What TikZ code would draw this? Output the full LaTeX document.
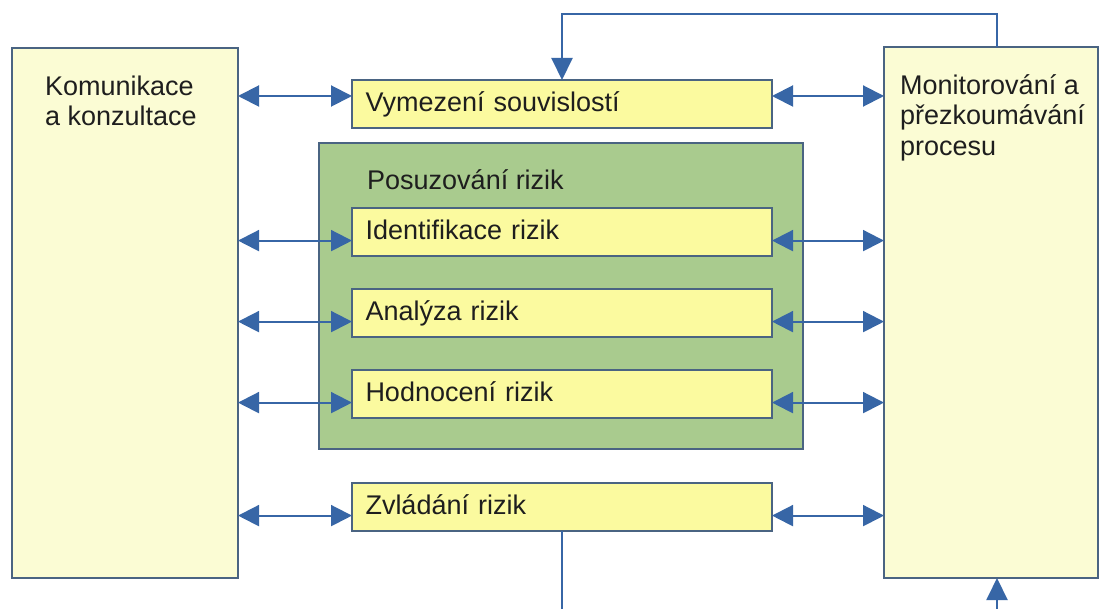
\documentclass[tikz,border=0pt]{standalone}
\usepackage{fontspec}
\setmainfont{Liberation Sans}
\usetikzlibrary{arrows.meta,calc}

\definecolor{paleyellow}{HTML}{FBFCD4}
\definecolor{stepyellow}{HTML}{FBFA9F}
\definecolor{assessgreen}{HTML}{A9CB8E}
\definecolor{boxline}{HTML}{4A6482}
\definecolor{flow}{HTML}{3766A6}
\definecolor{inktext}{HTML}{1E1E1E}

\begin{document}
\begin{tikzpicture}[x=1pt,y=-1pt,
  every node/.style={font=\fontsize{27}{30.8}\selectfont, text=inktext},
  framed/.style={draw=boxline, line width=1.8pt, outer sep=0pt, inner sep=0pt},
  bigbox/.style={framed, fill=paleyellow, anchor=north west},
  stepbox/.style={framed, fill=stepyellow, anchor=north west,
    minimum width=420pt, minimum height=48pt, text width=393pt, align=left,
    inner xsep=13.5pt, inner ysep=0pt, text height=19.4pt, text depth=5pt},
  flowline/.style={draw=flow, line width=2pt},
  biarrow/.style={flowline, {Triangle[length=21pt,width=21pt]}-{Triangle[length=21pt,width=21pt]}},
  onearrow/.style={flowline, -{Triangle[length=22pt,width=21pt]}},
  label/.style={inner sep=0pt, align=left, anchor=north west}
]
\useasboundingbox[fill=white] (0,0) rectangle (1108,609);

% side columns
\node[bigbox, minimum width=226pt, minimum height=530pt] (kom) at (12,48) {};
\node[label] (komtxt) at (45,75.3) {Komunikace\\a konzultace};
\node[bigbox, minimum width=214pt, minimum height=531pt] (mon) at (884,47) {};
\node[label] (montxt) at (900,74) {Monitorování a\\přezkoumávání\\procesu};

% risk assessment group
\node[framed, fill=assessgreen, anchor=north west, minimum width=484pt, minimum height=306pt] (assess) at (319,143) {};
\node[inner sep=0pt, anchor=base west] (assesstxt) at (367,190) {Posuzování rizik};

% process steps
\node[stepbox] (vym)   at (352,80)  {Vymezení souvislostí};
\node[stepbox] (ident) at (352,208) {Identifikace rizik};
\node[stepbox] (anal)  at (352,289) {Analýza rizik};
\node[stepbox] (hodn)  at (352,370) {Hodnocení rizik};
\node[stepbox] (zvl)   at (352,483) {Zvládání rizik};

% two-way links to both side columns
\foreach \n/\s in {vym/8, ident/-8.6, anal/-8.6, hodn/-8.6, zvl/-8.6}{
  \coordinate (\n L) at ([yshift=\s pt]\n.west);
  \coordinate (\n R) at ([yshift=\s pt]\n.east);
  \draw[biarrow] (kom.east |- \n L) -- (\n L);
  \draw[biarrow] (\n R) -- (mon.west |- \n R);
}

% feedback loop over the top
\coordinate (loopTop) at (997,14);
\draw[onearrow] (mon.north -| loopTop) -- (loopTop) -| (vym.north);

% lines leaving and entering at the bottom
\coordinate (bottomEdge) at (0,609);
\draw[flowline] (zvl.south) -- (zvl.south |- bottomEdge);
\draw[onearrow] (loopTop |- bottomEdge) -- (loopTop |- mon.south);
\end{tikzpicture}
\end{document}
